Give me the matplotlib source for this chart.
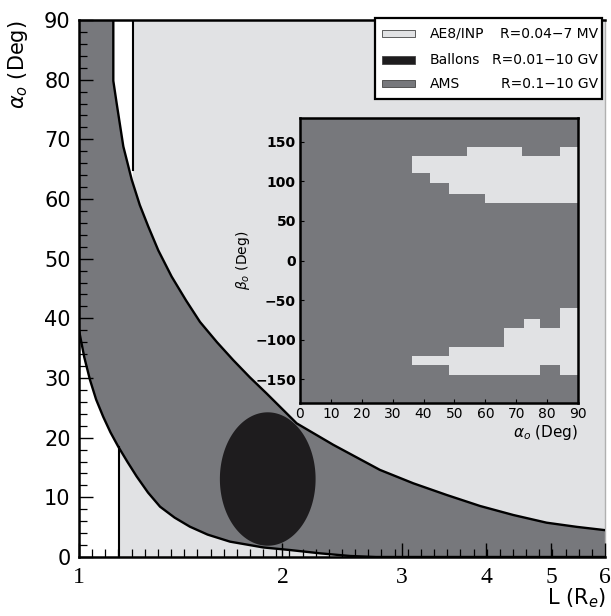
import numpy as np
import matplotlib
matplotlib.use("Agg")
import matplotlib.pyplot as plt
from matplotlib.patches import Rectangle
from matplotlib.ticker import NullFormatter, FixedFormatter

plt.rcParams['font.family'] = ['DejaVu Sans']

LIGHT = '#e1e2e4'
DARK = '#77787c'
BLACK = '#1e1c1e'

# AMS band, upper and lower edge (L, alpha0)
upper_L = [1.124, 1.124, 1.137, 1.163, 1.197, 1.230, 1.266, 1.310, 1.371, 1.440,
           1.510, 1.600, 1.691, 1.790, 1.895, 2.099, 2.378, 2.787, 3.123, 3.498,
           3.920, 4.390, 4.918, 5.450, 6.0]
upper_a = [90.0, 79.8, 76.0, 68.8, 63.2, 59.0, 55.4, 51.4, 47.0, 43.0,
           39.4, 36.0, 33.0, 30.1, 27.4, 22.4, 18.8, 14.6, 12.35, 10.4,
           8.55, 7.04, 5.75, 5.05, 4.5]
lower_L = [1.0, 1.018, 1.038, 1.060, 1.086, 1.113, 1.143, 1.180, 1.217, 1.265,
           1.318, 1.385, 1.459, 1.550, 1.673, 1.874, 2.051, 2.280, 2.517, 2.75, 6.0]
lower_a = [38.0, 33.5, 29.7, 26.4, 23.5, 20.9, 18.5, 15.9, 13.5, 10.8,
           8.43, 6.6, 5.08, 3.75, 2.57, 1.6, 1.17, 0.6, 0.17, 0.0, 0.0]

# AE8/INP limits
ae8_L_top = 1.201
ae8_a_top = 64.9
ae8_L_bot = 1.146
ae8_a_bot = 18.5

# balloon ellipse
ball_Lc = 1.902
ball_logw = 0.0708
ball_ac = 13.07
ball_ah = 11.18

# inset: pitch angle vs beta, light patches
up_edges = [36.2, 42.1, 48.1, 54.0, 60.0, 71.8, 84.3, 90.0]
up_top = [131.4, 131.4, 131.4, 143.7, 143.7, 131.4, 143.7]
up_bot = [110.3, 97.6, 84.5, 84.5, 73.1, 73.1, 73.1]
lo_edges = [36.2, 48.1, 66.2, 72.4, 77.8, 84.3, 90.0]
lo_top = [-121.2, -109.4, -85.3, -73.5, -85.3, -60.4]
lo_bot = [-132.6, -144.5, -144.5, -144.5, -132.6, -144.5]

legend_names = ['AE8/INP', 'Ballons', 'AMS']
legend_ranges = ['R=0.04\u22127 MV', 'R=0.01\u221210 GV', 'R=0.1\u221210 GV']
legend_cols = [LIGHT, BLACK, DARK]

fig = plt.figure(figsize=(6.11, 6.16), dpi=100)
ax = fig.add_axes([79 / 611, 59 / 616, 526 / 611, 537 / 616])
ax.set_xscale('log')
ax.set_xlim(1, 6)
ax.set_ylim(0, 90)

ax.fill_between([ae8_L_bot, 6], 0, 90, color=LIGHT, lw=0, zorder=1)
ax.fill_between([ae8_L_bot, ae8_L_top], 40, 90, color='white', lw=0, zorder=1.5)

poly_L = [1.0] + upper_L + lower_L[::-1]
poly_a = [90.0] + upper_a + lower_a[::-1]
ax.fill(poly_L, poly_a, color=DARK, lw=0, zorder=2)
ax.plot(upper_L, upper_a, color='k', lw=1.7, zorder=3, solid_joinstyle='round')
ax.plot(lower_L, lower_a, color='k', lw=1.7, zorder=3, solid_joinstyle='round')
ax.plot([ae8_L_top, ae8_L_top], [ae8_a_top, 90], color='k', lw=1.5, zorder=3)
ax.plot([ae8_L_bot, ae8_L_bot], [0, ae8_a_bot], color='k', lw=1.5, zorder=3)

t = np.linspace(0, 2 * np.pi, 300)
ex = 10 ** (np.log10(ball_Lc) + ball_logw * np.cos(t))
ey = ball_ac + ball_ah * np.sin(t)
ax.fill(ex, ey, color=BLACK, lw=0, zorder=4)

# axes styling
for s in ['left', 'bottom', 'top']:
    ax.spines[s].set_linewidth(1.8)
    ax.spines[s].set_zorder(6)
ax.spines['right'].set_color('#b0b0b0')
ax.spines['right'].set_linewidth(1.0)
ax.xaxis.set_zorder(5)
ax.yaxis.set_zorder(5)
ax.set_xticks([1, 2, 3, 4, 5, 6])
ax.xaxis.set_major_formatter(FixedFormatter(['1', '2', '3', '4', '5', '6']))
minor = 10 ** np.linspace(0, np.log10(6), 41)
ax.set_xticks(minor, minor=True)
ax.xaxis.set_minor_formatter(NullFormatter())
ax.set_yticks(np.arange(0, 91, 10))
ax.set_yticks(np.arange(0, 91, 2), minor=True)
ax.tick_params(axis='both', which='major', direction='in', length=10, width=1.0,
               top=False, right=False)
ax.tick_params(axis='both', which='minor', direction='in', length=6, width=0.9,
               top=False, right=False)
ax.tick_params(axis='x', which='major', pad=7, labelsize=17)
ax.tick_params(axis='y', which='major', pad=6, labelsize=15)
for lab in ax.get_xticklabels():
    lab.set_family('Liberation Serif')

fig.text(18 / 611, 1 - 20 / 616, r'$\alpha_o$ (Deg)', rotation=90, ha='center', va='top',
         fontsize=15)
fig.text(606 / 611, 1 - 598 / 616, r'L (R$_e$)', ha='right', va='center', fontsize=15)

# legend drawn by hand
def axpt(px, py):
    return ((px - 79) / 526, (557 - py) / 537)

x0, y0 = axpt(375, 99)
x1, y1 = axpt(602, 18)
ax.add_patch(Rectangle((x0, y0), x1 - x0, y1 - y0, transform=ax.transAxes,
                       facecolor='white', edgecolor='k', lw=1.6, zorder=10, clip_on=False))
rows = [33.7, 60.0, 83.7]
for name, rng, col, py in zip(legend_names, legend_ranges, legend_cols, rows):
    sx0, sy0 = axpt(382, py + 3.5)
    sx1, sy1 = axpt(415, py - 3.5)
    ax.add_patch(Rectangle((sx0, sy0), sx1 - sx0, sy1 - sy0, transform=ax.transAxes,
                           facecolor=col, edgecolor='#444444', lw=0.6, zorder=11))
    tx, ty = axpt(430, py)
    ax.text(tx, ty, name, transform=ax.transAxes, ha='left', va='center', fontsize=10, zorder=12)
    rx, _ = axpt(598, py)
    ax.text(rx, ty, rng, transform=ax.transAxes, ha='right', va='center', fontsize=10, zorder=12)

# inset
ins = fig.add_axes([300 / 611, (616 - 403) / 616, 278 / 611, 285 / 616])
ins.set_facecolor(DARK)
ins.set_xlim(0, 90)
ins.set_ylim(-180, 180)
ins.bar(up_edges[:-1], np.subtract(up_top, up_bot), width=np.diff(up_edges), bottom=up_bot,
        align='edge', color=LIGHT, lw=0)
ins.bar(lo_edges[:-1], np.subtract(lo_top, lo_bot), width=np.diff(lo_edges), bottom=lo_bot,
        align='edge', color=LIGHT, lw=0)
for s in ins.spines.values():
    s.set_linewidth(1.8)
ins.set_xticks(np.arange(0, 91, 10))
ins.set_yticks([-150, -100, -50, 0, 50, 100, 150])
ins.tick_params(direction='in', length=3, width=0.8, labelsize=10, pad=3)
for lab in ins.get_yticklabels():
    lab.set_fontweight('bold')
ins.set_xlabel(r'$\alpha_o$ (Deg)', fontsize=11, loc='right', labelpad=1)
ins.set_ylabel(r'$\beta_o$ (Deg)', fontsize=10, labelpad=2)

fig.savefig('out.png', dpi=100)
